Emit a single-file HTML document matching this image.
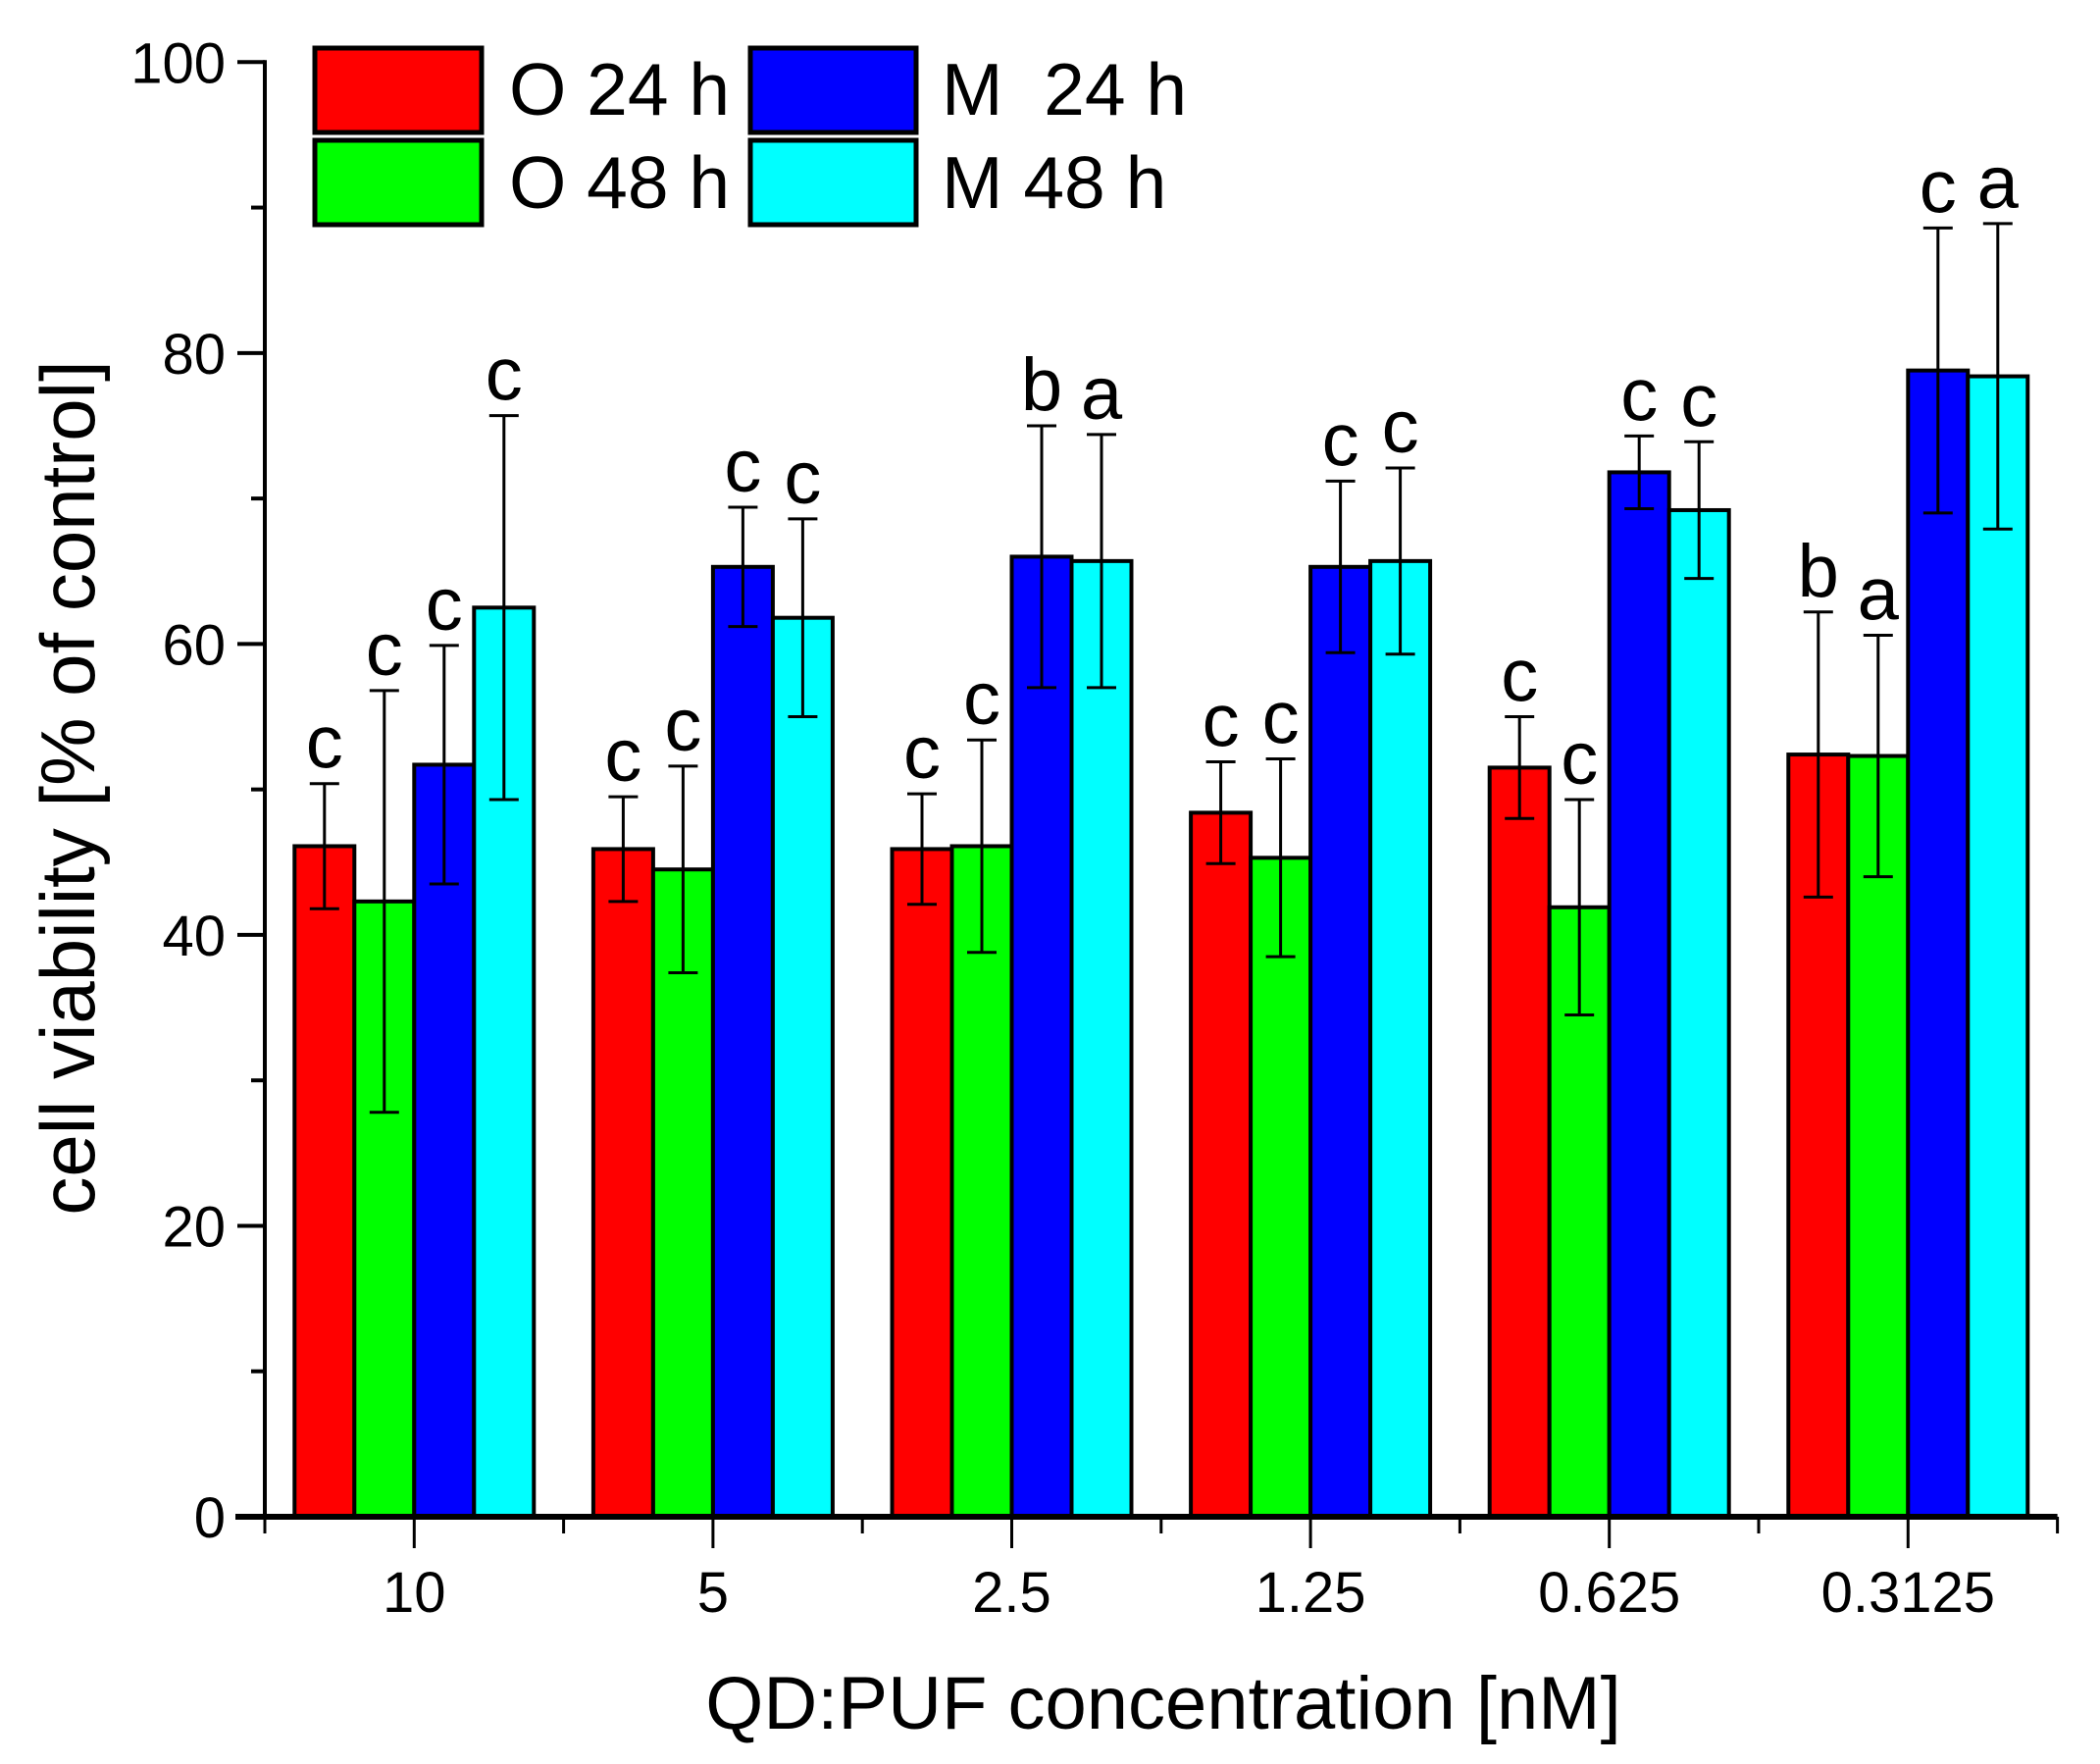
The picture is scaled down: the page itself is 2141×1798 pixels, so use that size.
<!DOCTYPE html>
<html><head><meta charset="utf-8"><style>
html,body{margin:0;padding:0;background:#fff;}
svg{display:block;font-family:"Liberation Sans",Arial,sans-serif;}
</style></head><body>
<svg id="chart" width="2141" height="1798" viewBox="0 0 2141 1798">
<g id="plot"></g>
<g id="legend">
<rect x="321" y="49" width="170" height="86" fill="#ff0000" stroke="#000" stroke-width="5"/>
<text x="519" y="117" font-size="75">O 24 h</text>
<rect x="321" y="143" width="170" height="86" fill="#00ff00" stroke="#000" stroke-width="5"/>
<text x="519" y="212" font-size="75">O 48 h</text>
<rect x="765" y="49" width="169" height="86" fill="#0000ff" stroke="#000" stroke-width="5"/>
<text x="960" y="117" font-size="75" xml:space="preserve">M  24 h</text>
<rect x="765" y="143" width="169" height="86" fill="#00ffff" stroke="#000" stroke-width="5"/>
<text x="960" y="212" font-size="75">M 48 h</text>
</g>
<text x="1186" y="1762" font-size="76" text-anchor="middle">QD:PUF concentration [nM]</text>
<text transform="translate(96,803) rotate(-90)" font-size="78" text-anchor="middle">cell viability [% of control]</text>
</svg>
<script>
const categories = ["10","5","2.5","1.25","0.625","0.3125"];
const seriesNames = ["O 24 h","O 48 h","M 24 h","M 48 h"];
const seriesColors = ["#ff0000","#00ff00","#0000ff","#00ffff"];
const o24 = [46.1,45.9,45.9,48.4,51.5,52.4];
const o48 = [42.3,44.5,46.1,45.3,41.9,52.3];
const m24 = [51.7,65.3,66.0,65.3,71.8,78.8];
const m48 = [62.5,61.8,65.7,65.7,69.2,78.4];
const o24Err = [4.3,3.6,3.8,3.5,3.5,9.8];
const o48Err = [14.5,7.1,7.3,6.8,7.4,8.3];
const m24Err = [8.2,4.1,9.0,5.9,2.5,9.8];
const m48Err = [13.2,6.8,8.7,6.4,4.7,10.5];
const o24Lbl = ["c","c","c","c","c","b"];
const o48Lbl = ["c","c","c","c","c","a"];
const m24Lbl = ["c","c","b","c","c","c"];
const m48Lbl = ["c","c","a","c","c","a"];
const yTicks = [0,20,40,60,80,100];
const yMinor = [10,30,50,70,90];

const NS="http://www.w3.org/2000/svg";
const X0=270, X1=2097.6, Y0=1546, Y100=63.3;
const band=(X1-X0)/categories.length;
const barW=61;
function y(v){return Y0-(v-0)*(Y0-Y100)/100;}
function xc(i){return X0+band*(i+0.5);}
const plot=document.getElementById('plot');
function mk(tag,attrs){const e=document.createElementNS(NS,tag);for(const k in attrs)e.setAttribute(k,attrs[k]);plot.appendChild(e);return e;}

const vals=[o24,o48,m24,m48], errs=[o24Err,o48Err,m24Err,m48Err], lbls=[o24Lbl,o48Lbl,m24Lbl,m48Lbl];
const keys=["o24","o48","m24","m48"];
categories.forEach((c,i)=>{
  for(let s=0;s<4;s++){
    const left=xc(i)-2*barW+s*barW;
    const v=vals[s][i];
    const r=mk('rect',{x:left,y:y(v),width:barW,height:Y0-y(v),fill:seriesColors[s],stroke:'#000','stroke-width':4});
    
    
  }
  for(let s=0;s<4;s++){
    const cx=xc(i)-2*barW+s*barW+barW/2;
    const v=vals[s][i], e=errs[s][i];
    const g=document.createElementNS(NS,'g');
    
    
    plot.appendChild(g);
    [[cx,y(v+e),cx,y(v-e)],[cx-15,y(v+e),cx+15,y(v+e)],[cx-15,y(v-e),cx+15,y(v-e)]].forEach(p=>{
      const l=document.createElementNS(NS,'line');
      l.setAttribute('x1',p[0]);l.setAttribute('y1',p[1]);l.setAttribute('x2',p[2]);l.setAttribute('y2',p[3]);
      l.setAttribute('stroke','#000');l.setAttribute('stroke-width',3);
      g.appendChild(l);
    });
    const t=mk('text',{x:cx,y:y(v+e)-16,'font-size':76,'text-anchor':'middle'});
    t.textContent=lbls[s][i];
    
    
  }
  const tk=mk('line',{x1:xc(i),y1:Y0,x2:xc(i),y2:Y0+32,stroke:'#000','stroke-width':3});
  
  
  const tl=mk('text',{x:xc(i),y:1643,'font-size':58,'text-anchor':'middle'});
  tl.textContent=c;
  
  
});
for(let i=0;i<=categories.length;i++){
  const m=mk('line',{x1:X0+band*i,y1:Y0,x2:X0+band*i,y2:Y0+17,stroke:'#000','stroke-width':3});
  
  
}
yTicks.forEach(v=>{
  const l=mk('line',{x1:X0-28,y1:y(v),x2:X0,y2:y(v),stroke:'#000','stroke-width':4});
  
  
  const t=mk('text',{x:X0-40,y:y(v)+21,'font-size':58,'text-anchor':'end'});
  t.textContent=v;
  
  
});
yMinor.forEach(v=>{
  const l=mk('line',{x1:X0-14,y1:y(v),x2:X0,y2:y(v),stroke:'#000','stroke-width':4});
  
  
});
const ya=mk('line',{x1:X0,y1:Y100-2,x2:X0,y2:Y0+3,stroke:'#000','stroke-width':4});


const xa=mk('line',{x1:X0-30,y1:Y0,x2:X1,y2:Y0,stroke:'#000','stroke-width':6});


</script>
</body></html>
